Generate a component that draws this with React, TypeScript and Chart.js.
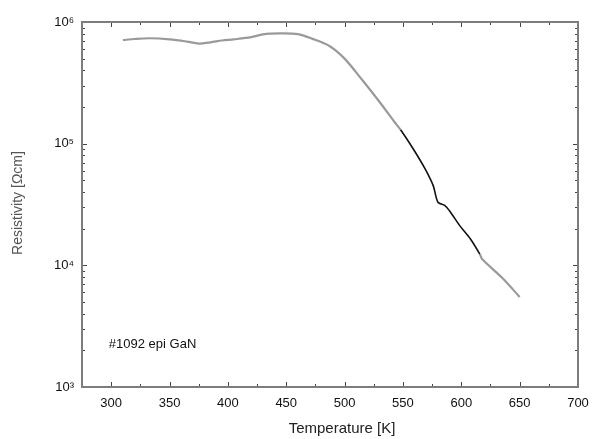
import React, { useEffect, useRef } from "react";
import { Chart, registerables } from "chart.js";

Chart.register(...registerables);

// Data
const temperatureK = [310, 320, 333, 350, 365, 375, 385, 395, 405, 420, 430, 445, 460, 472, 487, 500, 515, 530, 543, 548, 559, 569, 576, 580, 586, 590, 599, 608, 616, 618, 635, 650];
const resistivity = [7.1e5, 7.25e5, 7.35e5, 7.2e5, 6.9e5, 6.65e5, 6.8e5, 7.05e5, 7.2e5, 7.5e5, 7.9e5, 8.05e5, 7.95e5, 7.3e5, 6.35e5, 5.0e5, 3.35e5, 2.2e5, 1.5e5, 1.3e5, 9.0e4, 6.2e4, 4.5e4, 3.3e4, 3.1e4, 2.8e4, 2.1e4, 1.64e4, 1.23e4, 1.12e4, 7.9e3, 5.5e3];
const blackSegmentRange = [545, 617];

const xTickValues = [300, 350, 400, 450, 500, 550, 600, 650, 700];
const xMinorTicks = [325, 375, 425, 475, 525, 575, 625, 675];
const yTickValues = [1e3, 1e4, 1e5, 1e6];
const yTickLabels = ["10\u00b3", "10\u2074", "10\u2075", "10\u2076"];

const xTitle = "Temperature [K]";
const yTitle = "Resistivity [\u03a9cm]";
const annotation = "#1092 epi GaN";

const FONT = "'Liberation Sans', Arial, Helvetica, sans-serif";

const framePlugin = {
  id: "frame",
  afterDraw(chart: any) {
    const { ctx, chartArea, scales } = chart;
    const { left, right, top, bottom } = chartArea;
    const x = scales.x;
    const y = scales.y;
    ctx.save();
    ctx.strokeStyle = "#454545";
    ctx.lineWidth = 1;
    ctx.beginPath();
    xTickValues.forEach((v) => {
      const px = Math.round(x.getPixelForValue(v)) + 0.5;
      ctx.moveTo(px, bottom); ctx.lineTo(px, bottom - 5);
      ctx.moveTo(px, top); ctx.lineTo(px, top + 5);
    });
    xMinorTicks.forEach((v) => {
      const px = Math.round(x.getPixelForValue(v)) + 0.5;
      ctx.moveTo(px, bottom); ctx.lineTo(px, bottom - 3);
      ctx.moveTo(px, top); ctx.lineTo(px, top + 3);
    });
    for (let d = 3; d < 6; d++) {
      for (let m = 1; m <= 9; m++) {
        const v = m * Math.pow(10, d);
        const py = Math.round(y.getPixelForValue(v)) + 0.5;
        const len = m === 1 ? 5 : 3;
        ctx.moveTo(left, py); ctx.lineTo(left + len, py);
        ctx.moveTo(right, py); ctx.lineTo(right - len, py);
      }
    }
    ctx.stroke();

    ctx.strokeStyle = "#7d7d7d";
    ctx.lineWidth = 2;
    ctx.strokeRect(left, top, right - left, bottom - top);

    ctx.fillStyle = "#222";
    ctx.font = `15px ${FONT}`;
    ctx.textAlign = "center";
    ctx.textBaseline = "middle";
    ctx.fillText(xTitle, (left + right) / 2 + 12, 429);

    ctx.save();
    ctx.fillStyle = "#555";
    ctx.font = `14px ${FONT}`;
    ctx.translate(18, 203);
    ctx.rotate(-Math.PI / 2);
    ctx.fillText(yTitle, 0, 0);
    ctx.restore();

    ctx.fillStyle = "#111";
    ctx.font = `13px ${FONT}`;
    ctx.textAlign = "left";
    ctx.fillText(annotation, x.getPixelForValue(298), 344);
    ctx.restore();
  },
};

export default function App() {
  const canvasRef = useRef<HTMLCanvasElement | null>(null);

  useEffect(() => {
    if (!canvasRef.current) return;
    const chart = new Chart(canvasRef.current, {
      type: "line",
      data: {
        datasets: [
          {
            data: temperatureK.map((t, i) => ({ x: t, y: resistivity[i] })),
            borderColor: "#9a9a9a",
            borderWidth: 2.2,
            pointRadius: 0,
            tension: 0.3,
            fill: false,
            segment: {
              borderColor: (c: any) =>
                c.p0.parsed.x >= blackSegmentRange[0] && c.p1.parsed.x <= blackSegmentRange[1] ? "#111" : "#9a9a9a",
              borderWidth: (c: any) =>
                c.p0.parsed.x >= blackSegmentRange[0] && c.p1.parsed.x <= blackSegmentRange[1] ? 1.6 : 2.2,
            },
          },
        ],
      },
      options: {
        responsive: false,
        animation: false,
        layout: { padding: { top: 22, right: 14, left: 0, bottom: 0 } },
        plugins: { legend: { display: false }, tooltip: { enabled: false } },
        scales: {
          x: {
            type: "linear",
            min: 275,
            max: 700,
            grid: { display: false, drawTicks: false },
            border: { display: false },
            afterBuildTicks: (s: any) => {
              s.ticks = xTickValues.map((v) => ({ value: v }));
            },
            afterFit: (s: any) => {
              s.height = 52;
              s.paddingLeft = 0;
              s.paddingRight = 0;
            },
            ticks: {
              padding: 9,
              color: "#111",
              font: { family: FONT, size: 13 },
              maxRotation: 0,
              autoSkip: false,
              callback: (v: any) => String(v),
            },
          },
          y: {
            type: "logarithmic",
            min: 1e3,
            max: 1e6,
            grid: { display: false, drawTicks: false },
            border: { display: false },
            afterBuildTicks: (s: any) => {
              s.ticks = yTickValues.map((v) => ({ value: v }));
            },
            afterFit: (s: any) => {
              s.width = 82;
              s.paddingTop = 0;
              s.paddingBottom = 0;
            },
            ticks: {
              padding: 8,
              color: "#111",
              font: { family: FONT, size: 13 },
              autoSkip: false,
              callback: (v: any) => {
                const i = yTickValues.indexOf(Number(v));
                return i >= 0 ? yTickLabels[i] : "";
              },
            },
          },
        },
      },
      plugins: [framePlugin],
    });
    return () => chart.destroy();
  }, []);

  return (
    <div style={{ position: "absolute", left: 0, top: 0, width: 592, height: 439, background: "#fff" }}>
      <canvas ref={canvasRef} width={592} height={439} />
    </div>
  );
}
